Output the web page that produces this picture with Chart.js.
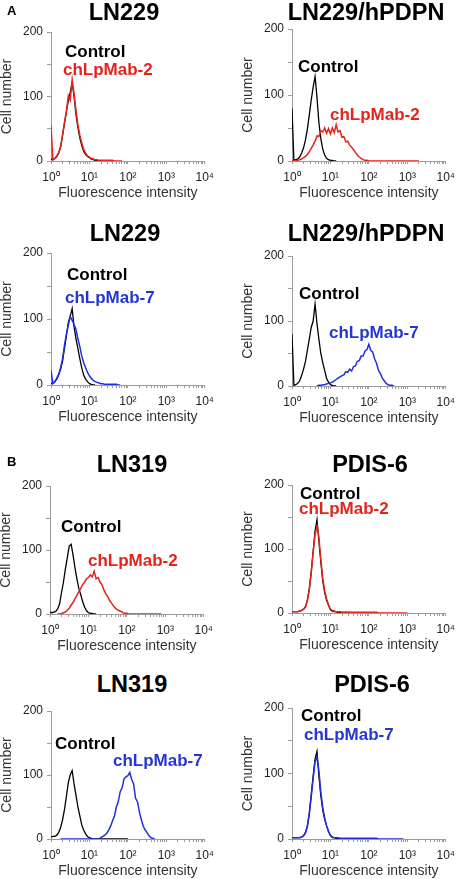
<!DOCTYPE html>
<html>
<head>
<meta charset="utf-8">
<script src="https://cdn.jsdelivr.net/npm/chart.js@4.4.0/dist/chart.umd.min.js"></script>
<style>
  body { margin: 0; background: #fff; }
  #fig { position: relative; width: 461px; height: 879px; overflow: hidden; font-family: 'Liberation Sans', Arial, sans-serif; }
  #fig canvas { position: absolute; }
  .t { position: absolute; white-space: nowrap; line-height: 1; font-weight: bold; }
</style>
</head>
<body>
<div id="fig"></div>
<script>
// fluorescence channels, 0.05 decade apart
const fluor = [1, 1.12, 1.26, 1.41, 1.58, 1.78, 2, 2.24, 2.51, 2.82,
  3.16, 3.55, 3.98, 4.47, 5.01, 5.62, 6.31, 7.08, 7.94, 8.91,
  10, 11.2, 12.6, 14.1, 15.8, 17.8, 20, 22.4, 25.1, 28.2,
  31.6, 35.5, 39.8, 44.7, 50.1, 56.2, 63.1, 70.8, 79.4, 89.1,
  100, 112, 126, 141, 158, 178, 200, 224, 251, 282,
  316, 355, 398, 447, 501, 562, 631, 708, 794, 891,
  1000, 1122, 1259, 1413, 1585, 1778, 1995];

// cell counts per channel (A: LN229, LN229/hPDPN)
const ln229_ctrlA = [3, 2, 4, 7, 12, 22, 40, 58, 76, 94, 106, 121, 100, 72, 52, 36, 24, 15, 10, 7, 5, 3, 2, 1, 1, 0, 0, 0];
const ln229_mab2 = [55, 2, 4, 8, 13, 22, 40, 60, 77, 101, 94, 126, 104, 78, 56, 40, 28, 18, 12, 8, 6, 4, 3, 2, 2, 1, 1, 1, 1, 1, 1, 1, 1, 0, 0, 0, 0, 0];
const hpdpn_ctrlA = [80, 1, 2, 3, 6, 12, 20, 32, 48, 70, 92, 112, 128, 96, 58, 34, 18, 9, 4, 2, 1, 1, 0, 0];
const hpdpn_mab2 = [0, 0, 0, 1, 2, 3, 5, 7, 10, 14, 19, 24, 30, 38, 37, 46, 44, 50, 42, 49,
  41, 50, 43, 55, 44, 46, 36, 37, 29, 30, 24, 21, 17, 13, 9, 6, 4, 2, 1, 1,
  0, 0, 0, 0, 0, 0, 0, 0, 0, 0, 0, 0, 0, 0, 0, 0, 0, 0, 0, 0, 0, 0, 0, 0, 0, 0, 0];
const ln229_ctrlB = [2, 3, 5, 9, 15, 24, 36, 55, 74, 95, 104, 116, 88, 70, 55, 40, 26, 15, 9, 5, 2, 1, 0, 0];
const ln229_mab7 = [22, 2, 5, 10, 16, 26, 40, 60, 77, 90, 104, 98, 92, 84, 70, 58, 44, 34, 26, 19,
  14, 10, 7, 5, 4, 3, 2, 2, 1, 1, 1, 1, 1, 1, 1, 0, 0];
const hpdpn_ctrlB = [80, 1, 2, 4, 8, 16, 26, 38, 55, 72, 90, 100, 126, 96, 72, 50, 36, 24, 12, 6, 2, 1, 0, 0];
const hpdpn_mab7 = [null, null, null, null, null, null, null, null, null, null, null, null, null,
  0, 1, 1, 2, 2, 3, 4, 5, 6, 8, 10, 12, 14, 16, 17, 22, 21,
  26, 23, 30, 31, 38, 39, 46, 46, 54, 56, 64, 55, 52, 42, 35, 24, 19, 12, 8, 4, 2, 1, 1, 0];

// B: LN319, PDIS-6
const ln319_ctrlA = [3, 2, 3, 4, 8, 16, 34, 50, 70, 88, 106, 109, 92, 72, 55, 40, 30, 19, 11, 5, 2, 1, 1, 0, 0];
const ln319_mab2 = [null, null, null, null, 0, 0, 1, 2, 3, 6,
  9, 14, 18, 24, 29, 35, 40, 46, 50, 55, 57, 61, 58, 67, 55, 57, 50, 46, 38, 32,
  27, 21, 17, 13, 9, 7, 5, 4, 2, 1, 1,
  0, 0, 0, 0, 0, 0, 0, 0, 0, 0, 0, 0, 0, 0, 0, 0, 0, 0];
const pdis6_ctrlA = [2, 2, 2, 2, 3, 4, 6, 10, 20, 38, 64, 96, 128, 146, 112, 80, 50, 32, 20, 12,
  5, 3, 2, 2, 1, 1, 1, 1, 1, 1, 1, 0, 0];
const pdis6_mab2 = [2, 2, 2, 2, 3, 4, 6, 9, 19, 36, 62, 95, 122, 136, 118, 84, 54, 35, 22, 13,
  6, 4, 3, 2, 2, 2, 1, 1, 1, 1, 1, 1, 1, 1, 1, 1, 1, 1, 1, 1, 1, 1, 1, 1, 1,
  0, 0, 0, 0, 0, 0, 0, 0, 0, 0, 0, 0, 0, 0, 0, 0];
const ln319_ctrlB = [3, 4, 4, 6, 10, 18, 30, 46, 66, 88, 100, 107, 86, 68, 50, 36, 22, 14, 8, 4, 2, 1,
  0, 0, 0, 0, 0, 0, 0, 0, 0, 0, 0, 0, 0, 0, 0, 0, 0, 0, 0];
const ln319_mab7 = [null, null, null, null, null,
  0, 0, 0, 0, 0, 0, 0, 0, 0, 0, 0, 0, 0, 0, 0, 0, 0, 0, 0, 0, 0,
  2, 4, 6, 9, 14, 20, 28, 36, 50, 58, 74, 80, 94, 97,
  99, 104, 93, 86, 64, 58, 42, 30, 20, 14, 10, 5, 2, 1, 0];
const pdis6_ctrlB = [2, 2, 2, 2, 2, 3, 5, 10, 20, 40, 68, 96, 122, 134, 96, 66, 44, 30, 20, 12,
  5, 2, 2, 1, 1, 1, 0, 0, 0];
const pdis6_mab7 = [2, 2, 2, 2, 2, 3, 5, 9, 19, 38, 64, 92, 118, 125, 104, 72, 48, 32, 20, 11,
  6, 3, 2, 2, 2, 1, 1, 1, 1, 1, 1, 1, 1, 1, 1, 1, 1, 1, 1, 1, 1, 1, 1, 1, 1,
  0, 0, 0, 0, 0, 0, 0, 0, 0, 0, 0, 0, 0, 0];

const expLabels = { 1: '10⁰', 10: '10¹', 100: '10²', 1000: '10³', 10000: '10⁴' };

const RED = '#e8221c';
const BLUE = '#2030e0';
const AXIS = '#9b9b9b';
const FONT = "'Liberation Sans', Arial, sans-serif";

const panels = [
  { title: 'LN229', ctrl: ln229_ctrlA, mab: ln229_mab2, name: 'chLpMab-2', color: RED,
    L: 51, R: 205, T: 32, B: 161, titleX: 124, titleY: 21, ctrlAt: [65, 57], mabAt: [63, 75] },
  { title: 'LN229/hPDPN', ctrl: hpdpn_ctrlA, mab: hpdpn_mab2, name: 'chLpMab-2', color: RED,
    L: 292, R: 447, T: 29, B: 161, titleX: 366, titleY: 21, ctrlAt: [298, 72], mabAt: [330, 120] },
  { title: 'LN229', ctrl: ln229_ctrlB, mab: ln229_mab7, name: 'chLpMab-7', color: BLUE,
    L: 51, R: 205, T: 253, B: 385, titleX: 125, titleY: 242, ctrlAt: [67, 280], mabAt: [65, 303] },
  { title: 'LN229/hPDPN', ctrl: hpdpn_ctrlB, mab: hpdpn_mab7, name: 'chLpMab-7', color: BLUE,
    L: 292, R: 447, T: 256, B: 386, titleX: 366, titleY: 242, ctrlAt: [299, 299], mabAt: [329, 338] },
  { title: 'LN319', ctrl: ln319_ctrlA, mab: ln319_mab2, name: 'chLpMab-2', color: RED,
    L: 50, R: 205, T: 486, B: 614, titleX: 132, titleY: 473, ctrlAt: [61, 532], mabAt: [88, 566] },
  { title: 'PDIS-6', ctrl: pdis6_ctrlA, mab: pdis6_mab2, name: 'chLpMab-2', color: RED,
    L: 292, R: 447, T: 485, B: 613, titleX: 370, titleY: 473, ctrlAt: [300, 499], mabAt: [299, 514] },
  { title: 'LN319', ctrl: ln319_ctrlB, mab: ln319_mab7, name: 'chLpMab-7', color: BLUE,
    L: 51, R: 205, T: 711, B: 839, titleX: 132, titleY: 693, ctrlAt: [55, 749], mabAt: [113, 766] },
  { title: 'PDIS-6', ctrl: pdis6_ctrlB, mab: pdis6_mab7, name: 'chLpMab-7', color: BLUE,
    L: 292, R: 447, T: 708, B: 839, titleX: 372, titleY: 693, ctrlAt: [301, 721], mabAt: [304, 740] }
];

Chart.defaults.font.family = FONT;

const fig = document.getElementById('fig');

// minor + major ticks of the log axis
const xTicks = [];
for (let d = 1; d <= 1000; d *= 10) {
  for (let k = 1; k < 10; k++) xTicks.push(k * d);
}
xTicks.push(10000);

// put a text with its baseline at y (Liberation Sans ascent, line-height 1)
function addText(str, x, baseline, size, color, centered) {
  const el = document.createElement('div');
  el.className = 't';
  el.textContent = str;
  el.style.fontSize = size + 'px';
  el.style.color = color;
  el.style.top = (baseline - 0.8465 * size) + 'px';
  el.style.left = x + 'px';
  if (centered) el.style.transform = 'translateX(-50%)';
  fig.appendChild(el);
}

function toPoints(ys) {
  return ys.map((y, i) => ({ x: fluor[i], y: y }));
}

function makePanel(p) {
  const cv = document.createElement('canvas');
  const left = p.L - 51;
  const top = p.T - 12;
  const w = 220;
  const h = p.B - p.T + 12 + 41;
  cv.width = w;
  cv.height = h;
  cv.style.left = left + 'px';
  cv.style.top = top + 'px';
  cv.style.width = w + 'px';
  cv.style.height = h + 'px';
  fig.appendChild(cv);

  new Chart(cv, {
    type: 'line',
    data: {
      datasets: [
        { label: p.name, data: toPoints(p.mab), borderColor: p.color, borderWidth: 1.5 },
        { label: 'Control', data: toPoints(p.ctrl), borderColor: '#000', borderWidth: 1.3 }
      ]
    },
    options: {
      responsive: false,
      animation: false,
      devicePixelRatio: 1,
      layout: { padding: { top: 12, right: w - (p.R - left), left: 0, bottom: 0 } },
      elements: { point: { radius: 0 }, line: { tension: 0 } },
      plugins: { legend: { display: false }, tooltip: { enabled: false } },
      scales: {
        x: {
          type: 'logarithmic',
          min: 1,
          max: 10000,
          afterBuildTicks: s => { s.ticks = xTicks.map(v => ({ value: v })); },
          afterFit: s => { s.height = 41; },
          border: { color: AXIS, width: 1 },
          grid: { drawOnChartArea: false, tickLength: 3, color: AXIS },
          ticks: {
            autoSkip: false, maxRotation: 0, padding: 6, color: '#222',
            font: { size: 12 },
            callback: v => expLabels[v] || ''
          },
          title: { display: true, text: 'Fluorescence intensity', color: '#333', font: { size: 14 }, padding: 0 }
        },
        y: {
          min: 0,
          max: 200,
          afterFit: s => { s.width = 51; },
          border: { color: AXIS, width: 1 },
          grid: { drawOnChartArea: false, tickLength: 4, color: AXIS },
          ticks: {
            stepSize: 50, padding: 4, color: '#222',
            font: { size: 12 },
            callback: v => (v % 100 === 0 ? v : '')
          },
          title: { display: true, text: 'Cell number', color: '#333', font: { size: 14 }, padding: { top: -1, bottom: 0 } }
        }
      }
    }
  });

  addText(p.title, p.titleX, p.titleY, 23.5, '#000', true);
  addText('Control', p.ctrlAt[0], p.ctrlAt[1], 17, '#000', false);
  addText(p.name, p.mabAt[0], p.mabAt[1], 17, p.color === RED ? '#e3241d' : '#2435d8', false);
}

panels.forEach(makePanel);

addText('A', 7, 15, 13, '#000', false);
addText('B', 7, 466, 13, '#000', false);
</script>
</body>
</html>
